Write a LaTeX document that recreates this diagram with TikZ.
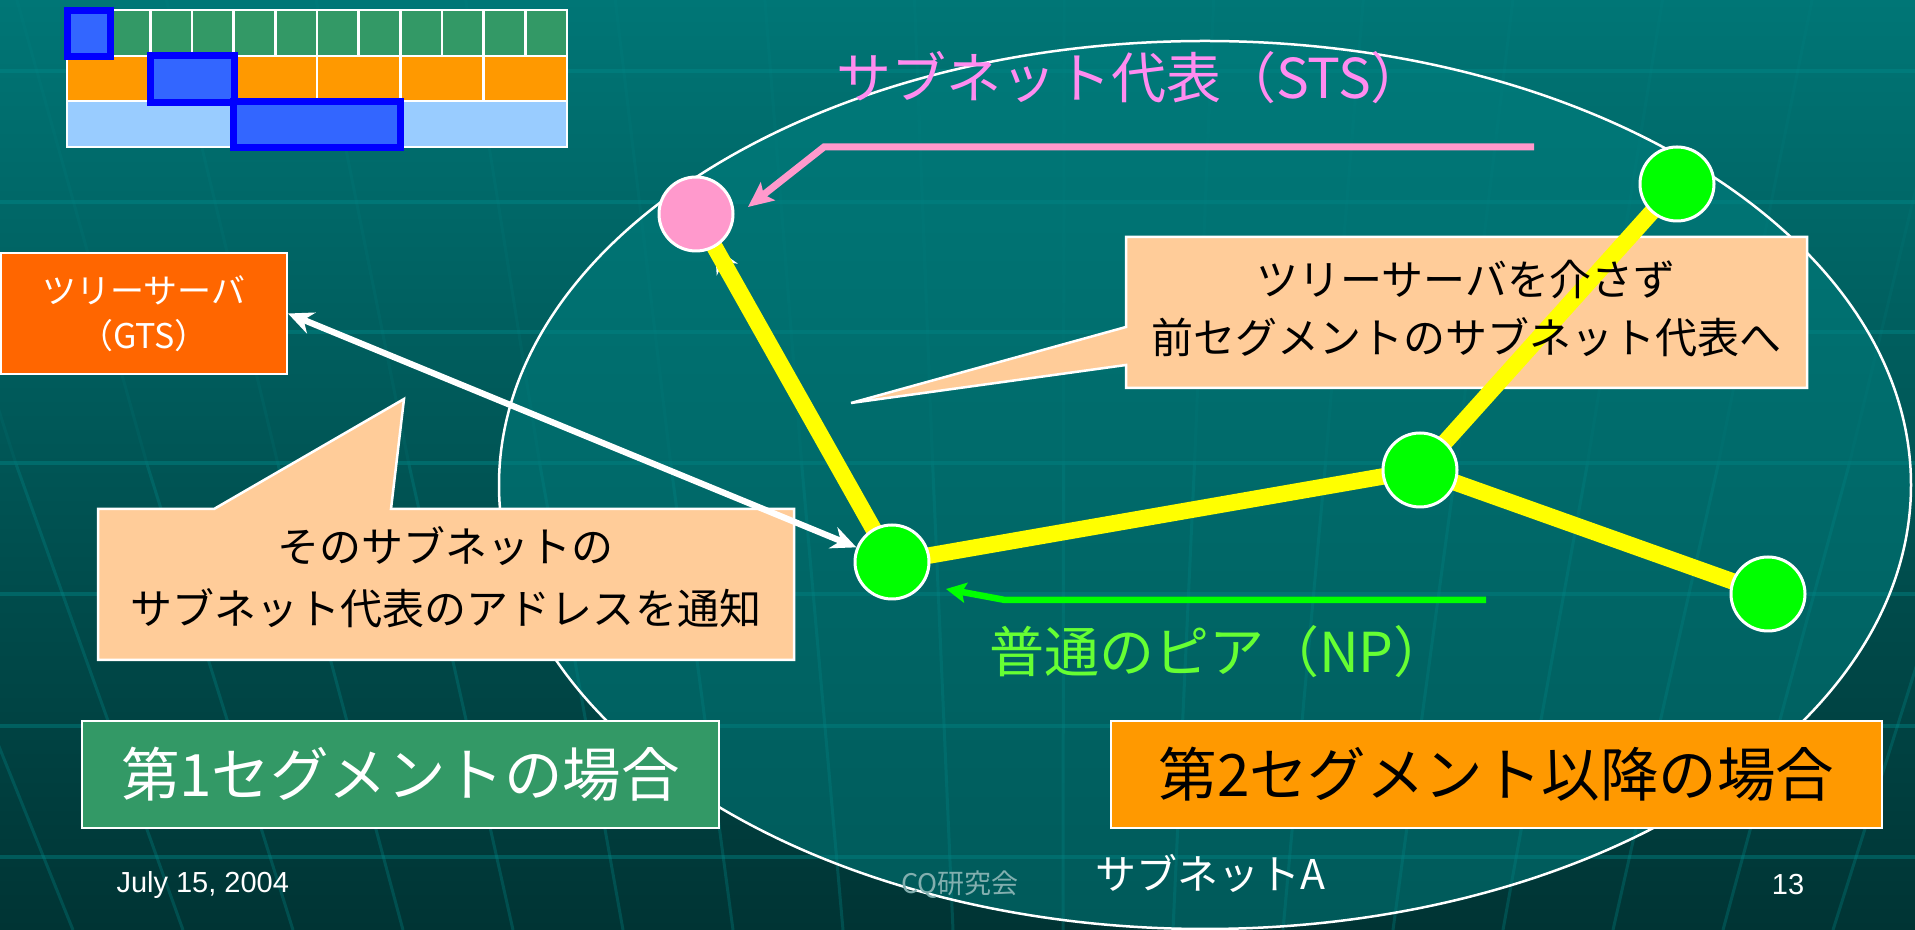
\documentclass[tikz,border=0pt]{standalone}
\usepackage{fontspec}
\setmainfont{Noto Sans CJK JP}
\newfontfamily\latf{Liberation Sans}
\usetikzlibrary{arrows.meta}
\definecolor{bgtop}{RGB}{0,118,118}
\definecolor{bgmid}{RGB}{0,96,96}
\definecolor{bgbot}{RGB}{0,52,52}
\definecolor{gridc}{RGB}{0,140,140}
\definecolor{ellc}{RGB}{0,128,128}
\definecolor{segg}{RGB}{51,153,102}
\definecolor{sego}{RGB}{255,153,0}
\definecolor{cellb}{RGB}{153,204,255}
\definecolor{selb}{RGB}{51,102,255}
\definecolor{selbd}{RGB}{0,0,255}
\definecolor{gtsc}{RGB}{255,102,0}
\definecolor{peach}{RGB}{255,204,153}
\definecolor{pinkn}{RGB}{255,153,204}
\definecolor{pinkt}{RGB}{255,140,240}
\definecolor{npt}{RGB}{102,255,51}
\definecolor{npg}{RGB}{0,255,0}
\definecolor{yel}{RGB}{255,255,0}
\definecolor{cqc}{RGB}{130,175,175}
\newcommand{\fsz}[2]{\fontsize{#1pt}{#2pt}\selectfont}
\pgfdeclarelayer{back}
\pgfdeclarelayer{edges}
\pgfsetlayers{back,edges,main}
\begin{document}
\begin{tikzpicture}[x=0.4pt,y=-0.4pt,
  bggrid/.style={draw=gridc,line width=1.4pt,draw opacity=0.4},
  bgvgrid/.style={draw=gridc,line width=1.2pt},
  cell/.style={draw=white,line width=1pt},
  selbox/.style={draw=selbd,fill=selb,line width=2.8pt},
  peer/.style={circle,fill=npg,draw=white,line width=1.2pt,minimum size=29.6pt,inner sep=0pt},
  stsn/.style={peer,fill=pinkn},
  yline/.style={draw=yel,line width=6.6pt},
  warrow/.style={draw=white,line width=2.5pt},
  callout/.style={fill=peach,draw=white,line width=1pt},
  segbox/.style={draw=white,line width=1pt,minimum height=42.8pt,inner sep=0pt,font=\fsz{23.4}{28}},
  calltext/.style={align=center,text=black,inner sep=0pt}
]
\useasboundingbox (0,0) rectangle (1915,930);
\begin{pgfonlayer}{back}
% background
\shade[top color=bgtop,middle color=bgmid,bottom color=bgbot] (0,0) rectangle (1915,930);
\foreach \yy in {71,202,332,463,594,726,857} \draw[bggrid] (0,\yy) -- (1915,\yy);
\foreach \k in {-10,...,16} {
  \pgfmathsetmacro\xb{513+110*\k}
  \pgfmathsetmacro\xt{1060+(\xb-1060)*1.36}
  \pgfmathsetmacro\xm{1060+(\xb-1060)*1.19}
  \draw[bgvgrid,draw opacity=0.12] (\xt,0) -- (\xm,465);
  \draw[bgvgrid,draw opacity=0.3] (\xm,465) -- (\xb,930);
}
% subnet ellipse
\draw[draw=white,line width=1pt,fill=ellc,fill opacity=0.5] (1205,485) ellipse [x radius=706,y radius=444];
% segment grid top-left
\foreach \i in {0,...,11} \draw[cell,fill=segg] ({67+\i*500/12},10) rectangle ({67+(\i+1)*500/12},56);
\foreach \i in {0,...,5} \draw[cell,fill=sego] ({67+\i*500/6},56) rectangle ({67+(\i+1)*500/6},101);
\foreach \i in {0,1,2} \draw[cell,fill=cellb] ({67+\i*500/3},101) rectangle ({67+(\i+1)*500/3},147);
\draw[selbox] (67.5,10.5) rectangle (110.5,56.5);
\draw[selbox] (150.5,55.5) rectangle (234.5,102.5);
\draw[selbox] (233.5,101.5) rectangle (400.5,147.5);
% callouts
\draw[callout] (1126,237) -- (1807,237) -- (1807,388) -- (1126,388) -- (1126,365) -- (851,403) -- (1126,327) -- cycle;
\draw[callout] (98,509) -- (214,509) -- (404,399) -- (391,509) -- (794,509) -- (794,660) -- (98,660) -- cycle;
\end{pgfonlayer}

\node[calltext,font=\fsz{16.8}{23.2}] (c1text) at (1466,309) {ツリーサーバを介さず\\前セグメントのサブネット代表へ};
\node[calltext,font=\fsz{16.8}{24.8}] (c2text) at (446,577) {そのサブネットの\\サブネット代表のアドレスを通知};

% tree server
\node[draw=white,line width=1pt,fill=gtsc,minimum width=114.2pt,minimum height=48.4pt,inner sep=0pt,
      align=center,text=white,font=\fsz{13.6}{18}] (gts) at (144,313.5) {ツリーサーバ\\（GTS）};

% peers
\node[stsn] (sts) at (696,214) {};
\node[peer] (np1) at (892,562) {};
\node[peer] (np2) at (1420,470) {};
\node[peer] (np3) at (1677,184) {};
\node[peer] (np4) at (1768,594) {};

\begin{pgfonlayer}{edges}
\draw[warrow,{Stealth[length=10pt,width=9pt]}-{Stealth[length=10pt,width=9pt]}] (gts.east) -- (np1);
\draw[warrow,-{Stealth[length=10pt,width=9.5pt]}] (np1) -- (sts);
\draw[yline] (sts.center) -- (np1.center);
\draw[yline] (np1.center) -- (np2.center);
\draw[yline] (np2.center) -- (np3.center);
\draw[yline] (np2.center) -- (np4.center);
\end{pgfonlayer}

% pink arrow and label
\coordinate (pstart) at (1534,147);
\coordinate (pbend) at (824,147);
\coordinate (ptip) at (748,207);
\draw[draw=pinkn,line width=2.8pt,-{Stealth[length=10pt,width=9pt,inset=2pt]}] (pstart) -- (pbend) -- (ptip);
\node[text=pinkt,font=\fsz{22}{26},inner sep=0pt] (stslabel) at (1131,78) {サブネット代表（STS）};

% green arrow and label
\coordinate (gstart) at (1486,600);
\coordinate (gbend) at (1005,600);
\coordinate (gtip) at (946,589);
\draw[draw=npg,line width=2.6pt,-{Stealth[length=8pt,width=8pt,inset=1.5pt]}] (gstart) -- (gbend) -- (gtip);
\node[text=npt,font=\fsz{22}{26},inner sep=0pt] (nplabel) at (1219,652) {普通のピア（NP）};

% segment cases
\node[segbox,fill=segg,text=white,minimum width=254.8pt] (seg1) at (400.5,774.5) {第1セグメントの場合};
\node[segbox,fill=sego,text=black,minimum width=308.4pt] (seg2) at (1496.5,774.5) {第2セグメント以降の場合};

% subnet name
\node[text=white,font=\fsz{16.4}{19},inner sep=0pt] (subnet) at (1210,873) {サブネットA};

% footer
\node[text=white,font=\latf\fsz{11.6}{14},anchor=west,inner sep=0pt] (date) at (116,885) {July 15, 2004};
\node[text=cqc,font=\fsz{10.8}{13},inner sep=0pt] (cq) at (960,885) {CQ研究会};
\node[text=white,font=\latf\fsz{11.6}{14},inner sep=0pt] (page) at (1788,885) {13};
\end{tikzpicture}
\end{document}
